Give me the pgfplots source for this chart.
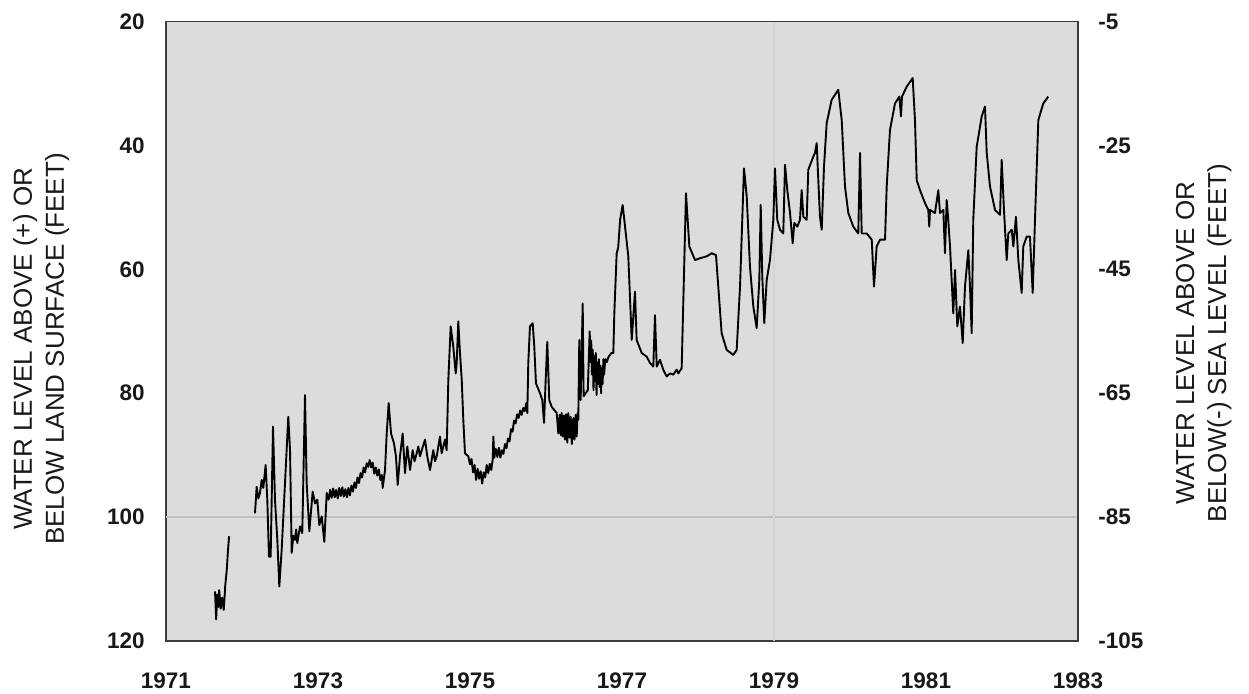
\documentclass[border=0pt]{standalone}
\usepackage{pgfplots}
\pgfplotsset{compat=1.18}
\usepackage{fontspec}
\setmainfont{Liberation Sans}
\definecolor{bgc}{RGB}{220,220,220}
\definecolor{frm}{RGB}{60,60,60}
\definecolor{txt}{RGB}{25,25,25}
\begin{document}
\begin{tikzpicture}
\pgfplotsset{
  common/.style={
    scale only axis, width=456pt, height=309.6pt,
    xmin=1971, xmax=1983,
    major tick length=0pt,
    /pgf/number format/assume math mode=true,
    tick label style={font=\fontsize{11.25}{13}\selectfont\bfseries, text=txt, inner sep=0pt},
  }
}
\begin{axis}[common,
  y dir=reverse, ymin=20, ymax=120,
  ytick={20,40,60,80,100,120},
  yticklabels={20,40,60,80,100,120},
  xtick={1971,1973,1975,1977,1979,1981,1983},
  xticklabels={1971,1973,1975,1977,1979,1981,1983},
  yticklabel style={anchor=east, xshift=-10.5pt},
  xticklabel style={anchor=north, yshift=-15.5pt},
  axis background/.style={fill=bgc},
  axis line style={frm, line width=0.8pt},
  clip mode=individual,
]
\coordinate (ll) at (rel axis cs:0,0);
\coordinate (ur) at (rel axis cs:1,1);
\draw[color={rgb,255:red,192;green,192;blue,192}, line width=0.6pt] (axis cs:1971,100) -- (axis cs:1983,100);
\draw[color={rgb,255:red,212;green,212;blue,212}, line width=0.6pt] (axis cs:1979,20) -- (axis cs:1979,120);
\addplot[black, line width=0.95pt, line join=round] coordinates {
(1971.645,112.0)(1971.66,116.5)(1971.675,112.5)(1971.69,114.5)(1971.70,111.8)(1971.72,114.8)(1971.74,113.0)(1971.76,115.0)(1971.78,111.0)(1971.80,108.5)(1971.815,105.5)(1971.83,103.1)
};
\addplot[black, line width=0.95pt, line join=round] coordinates {
(1972.171,99.4)(1972.193,95.1)(1972.215,97.0)(1972.237,96.1)(1972.259,94.0)(1972.28,95.3)(1972.311,91.6)(1972.333,97.2)(1972.355,106.4)(1972.377,106.4)
(1972.408,85.4)(1972.434,97.2)(1972.465,103.7)(1972.491,111.2)(1972.522,105.3)(1972.566,94.5)(1972.609,83.8)(1972.632,89.2)(1972.654,105.8)
(1972.675,103.0)(1972.697,103.7)(1972.712,102.0)(1972.728,104.2)(1972.763,101.5)(1972.793,102.6)(1972.829,80.3)(1972.851,94.5)(1972.886,102.3)
(1972.93,95.9)(1972.961,97.8)(1972.991,97.2)(1973.017,101.3)(1973.049,99.9)(1973.083,104.0)(1973.115,96.1)
(1973.14,97.2)(1973.16,95.6)(1973.18,96.9)(1973.20,95.4)(1973.22,96.8)(1973.24,95.6)(1973.26,97.0)(1973.28,95.3)(1973.30,96.6)(1973.32,95.2)
(1973.34,96.7)(1973.36,95.5)(1973.38,96.8)(1973.40,95.3)(1973.42,96.5)(1973.44,94.9)(1973.46,95.9)(1973.48,94.4)(1973.50,95.3)(1973.52,93.6)
(1973.54,94.5)(1973.56,92.9)(1973.58,93.6)(1973.60,92.0)(1973.62,92.8)(1973.64,91.3)(1973.66,91.9)(1973.68,90.8)(1973.70,92.0)(1973.72,91.2)
(1973.74,93.0)(1973.76,92.0)(1973.78,93.3)(1973.80,92.3)(1973.82,94.0)(1973.84,93.2)(1973.851,95.3)
(1973.882,92.4)(1973.904,86.5)(1973.93,81.6)(1973.961,86.5)
(1974.0,88.1)(1974.026,90.2)(1974.049,94.8)(1974.079,90.2)(1974.114,86.5)(1974.145,92.9)(1974.175,88.6)(1974.211,92.4)(1974.246,89.2)
(1974.27,91.0)(1974.299,89.7)(1974.32,88.6)(1974.342,90.2)(1974.37,89.0)(1974.408,87.5)(1974.438,90.2)(1974.474,92.4)(1974.517,89.2)(1974.54,91.0)(1974.562,90.2)
(1974.605,87.0)(1974.627,89.7)(1974.671,87.5)(1974.693,89.2)(1974.715,77.8)(1974.746,69.2)(1974.78,72.5)(1974.812,76.8)(1974.825,75.1)
(1974.846,68.4)(1974.868,73.5)(1974.891,77.8)(1974.912,84.3)(1974.934,89.7)(1974.978,90.2)
(1975.00,91.5)(1975.02,90.6)(1975.04,92.8)(1975.06,91.6)(1975.08,94.0)(1975.10,92.2)(1975.12,93.8)(1975.14,92.6)(1975.16,94.6)(1975.18,92.8)
(1975.20,93.6)(1975.22,91.6)(1975.24,92.9)(1975.26,91.4)(1975.28,92.4)(1975.30,90.6)(1975.307,87.0)(1975.32,90.4)(1975.34,89.0)(1975.36,90.3)
(1975.38,88.8)(1975.40,90.4)(1975.42,89.2)(1975.44,89.8)(1975.46,88.2)(1975.48,88.9)(1975.50,87.3)(1975.52,87.8)(1975.54,85.8)(1975.56,86.2)
(1975.58,84.4)(1975.60,84.9)(1975.62,83.4)(1975.64,84.0)(1975.66,82.8)(1975.68,83.5)(1975.70,82.4)(1975.72,82.9)(1975.74,81.6)(1975.754,83.2)
(1975.767,75.1)(1975.789,69.2)
(1975.825,68.7)(1975.846,72.5)(1975.868,78.4)(1975.921,80.0)(1975.951,81.1)(1975.974,84.8)(1975.996,77.8)(1976.017,71.7)(1976.043,81.1)
(1976.075,82.2)(1976.141,83.2)(1976.162,86.5)(1976.18,83.5)(1976.195,86.8)(1976.206,83.2)(1976.22,87.0)(1976.235,83.6)(1976.25,87.5)(1976.265,83.4)(1976.28,88.0)
(1976.293,83.2)(1976.31,87.2)(1976.325,83.8)(1976.34,88.2)(1976.359,84.0)(1976.375,87.5)(1976.39,83.5)(1976.404,87.0)(1976.415,83.2)(1976.425,84.3)
(1976.438,71.4)(1976.456,81.1)(1976.483,65.5)(1976.495,80.5)(1976.55,79.5)(1976.575,70.0)
(1976.585,75.0)(1976.595,71.5)(1976.605,77.0)(1976.615,73.0)(1976.625,79.5)(1976.635,74.0)(1976.645,78.0)(1976.655,73.5)(1976.665,80.3)(1976.675,75.0)
(1976.685,78.5)(1976.695,74.5)(1976.705,79.0)(1976.715,75.5)(1976.725,80.0)(1976.735,76.0)(1976.745,78.5)(1976.755,74.5)(1976.765,77.0)(1976.78,74.5)
(1976.80,75.0)(1976.82,74.2)(1976.86,73.5)(1976.886,73.5)(1976.899,67.1)(1976.93,57.4)(1976.95,56.5)(1976.975,52.0)(1977.009,49.6)
(1977.083,57.9)(1977.128,71.4)(1977.171,63.6)(1977.193,71.4)(1977.259,73.5)(1977.325,74.1)(1977.368,75.1)(1977.412,75.7)(1977.434,67.4)(1977.457,75.7)
(1977.5,74.6)(1977.543,76.2)(1977.588,77.3)(1977.632,76.8)(1977.675,77.0)(1977.719,76.2)(1977.741,76.8)(1977.772,76.2)(1977.785,76.0)
(1977.842,47.7)(1977.886,56.3)(1977.961,58.5)(1978.026,58.2)(1978.114,57.9)(1978.18,57.4)(1978.237,57.7)(1978.267,62.8)(1978.311,70.3)
(1978.377,73.0)(1978.464,73.8)(1978.509,73.0)(1978.553,62.8)(1978.605,43.7)(1978.641,48.2)(1978.684,59.6)(1978.728,66.0)(1978.772,69.5)
(1978.807,61.7)(1978.825,49.6)(1978.846,61.2)(1978.872,68.7)(1978.904,61.7)(1978.947,58.5)(1978.991,52.0)(1979.013,43.7)(1979.043,52.0)
(1979.079,53.6)(1979.122,54.2)(1979.145,43.1)(1979.175,47.2)(1979.211,50.9)(1979.246,55.8)(1979.267,52.5)(1979.307,53.1)(1979.342,52.0)
(1979.364,47.2)(1979.386,51.5)(1979.43,52.0)(1979.451,43.9)(1979.517,41.8)(1979.539,41.2)(1979.562,39.6)(1979.583,45.6)(1979.605,51.5)
(1979.628,53.6)(1979.658,43.4)(1979.693,36.4)(1979.759,32.6)(1979.846,31.0)(1979.891,35.9)(1979.934,46.6)(1979.978,50.9)(1980.043,53.1)
(1980.109,54.2)(1980.132,41.2)(1980.154,54.2)(1980.22,54.2)(1980.286,55.2)(1980.316,62.8)(1980.351,56.3)(1980.395,55.2)(1980.461,55.2)
(1980.483,46.6)(1980.526,37.5)(1980.592,33.2)(1980.649,32.1)(1980.671,35.3)(1980.684,32.1)(1980.746,30.5)(1980.825,29.1)(1980.855,35.9)
(1980.878,45.6)(1980.921,47.2)(1980.987,49.3)(1981.030,50.4)(1981.043,53.1)(1981.053,50.4)(1981.118,50.9)(1981.162,47.2)(1981.184,50.9)
(1981.228,50.4)(1981.25,57.4)(1981.272,48.8)(1981.293,52.0)(1981.316,56.3)(1981.359,67.1)(1981.382,60.1)(1981.412,69.2)(1981.447,66.0)
(1981.483,71.9)(1981.513,62.8)(1981.557,56.9)(1981.579,62.8)(1981.601,70.3)(1981.622,52.0)(1981.667,40.2)(1981.733,35.3)(1981.776,33.7)
(1981.799,41.2)(1981.842,46.6)(1981.908,50.4)(1981.974,51.2)(1981.996,42.3)(1982.026,50.4)(1982.062,58.5)(1982.083,54.2)(1982.128,53.6)
(1982.149,56.3)(1982.184,51.5)(1982.215,58.5)(1982.259,63.8)(1982.28,56.3)(1982.325,54.7)(1982.368,54.7)(1982.404,63.8)(1982.434,52.0)
(1982.478,35.9)(1982.543,33.2)(1982.609,32.1)
};
\node[rotate=90, align=center, font=\fontsize{13}{16}\selectfont, text=txt] at (axis description cs:-0.137,0.4715) {WATER LEVEL ABOVE (+) OR\\BELOW LAND SURFACE (FEET)};
\node[rotate=90, align=center, font=\fontsize{13}{16}\selectfont, text=txt] at (axis description cs:1.138,0.481) {WATER LEVEL ABOVE OR\\BELOW(-) SEA LEVEL (FEET)};
\end{axis}
\begin{axis}[common,
  ymin=-105, ymax=-5,
  axis x line=none,
  axis y line*=right,
  axis line style={frm, line width=0.8pt},
  ytick={-105,-85,-65,-45,-25,-5},
  yticklabels={-105,-85,-65,-45,-25,-5},
  yticklabel style={anchor=west, xshift=10pt},
]
\addplot[draw=none] coordinates {(1971,-50)};
\end{axis}
\pgfresetboundingbox
\useasboundingbox ([xshift=-83pt,yshift=-26.5pt]ll) rectangle ([xshift=85.5pt,yshift=10.85pt]ur);
\end{tikzpicture}
\end{document}
